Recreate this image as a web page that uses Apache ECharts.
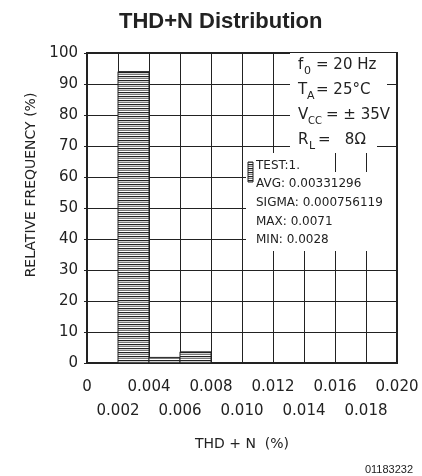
<!DOCTYPE html>
<html><head><meta charset="utf-8">
<script src="https://cdn.jsdelivr.net/npm/echarts@6/dist/echarts.min.js"></script>
<style>html,body{margin:0;padding:0;background:#fff}#c{width:422px;height:476px}</style>
</head><body><div id="c"></div>
<script>
// ---- data ----
const binEdges = [0.002, 0.004, 0.006, 0.008];   // THD+N (%) bin edges
const relFreq  = [94, 1.8, 3.6];                  // relative frequency (%) per bin
const xMin = 0, xMax = 0.020, xStep = 0.002;
const yMin = 0, yMax = 100, yStep = 10;
const statsLines = ['TEST:1.', 'AVG: 0.00331296', 'SIGMA: 0.000756119', 'MAX: 0.0071', 'MIN: 0.0028'];
const condSymbols = ['f', 'T', 'V', 'R'];
const condSubs    = ['0', 'A', 'CC', 'L'];
const condValues  = ['= 20 Hz', '= 25°C', '= ± 35V', '=   8Ω'];
const titleText = 'THD+N Distribution';
const xName = 'THD + N  (%)';
const yName = 'RELATIVE FREQUENCY (%)';
const figId = '01183232';

// ---- hatch pattern ----
function makeHatch() {
  const c = document.createElement('canvas');
  c.width = 4; c.height = 4;
  const g = c.getContext('2d');
  g.fillStyle = '#fff'; g.fillRect(0, 0, 4, 4);
  g.fillStyle = '#222'; g.fillRect(0, 0, 4, 1);
  g.fillStyle = '#d0d0d0'; g.fillRect(0, 1, 4, 1);
  g.fillStyle = '#7a7a7a'; g.fillRect(0, 2, 4, 1);
  return c;
}
const hatch = makeHatch();

const histData = relFreq.map((f, i) => [binEdges[i], binEdges[i + 1], f]);

const FONT = 'DejaVu Sans';
const TXT = '#222';

function tickLabel(v, wantOdd) {
  const i = Math.round(v / xStep);
  if ((i % 2 === 1) !== wantOdd) return '';
  return i === 0 ? '0' : v.toFixed(3);
}

// ---- annotation graphics (layout only) ----
const graphics = [];
const condBoxes = [
  {x: 290, y: 53, w: 106, h: 25},
  {x: 290, y: 78, w: 97, h: 25},
  {x: 290, y: 103, w: 106, h: 25},
  {x: 290, y: 128, w: 87, h: 25}
];
const condCenters = [65, 90, 115, 140];
const subX = [304, 307, 308, 309];
const valX = [316, 316, 326, 318];
const subSize = [11, 11, 10, 11];
condBoxes.forEach((b, i) => {
  graphics.push({type: 'rect', z: 100, shape: {x: b.x, y: b.y, width: b.w, height: b.h}, style: {fill: '#fff'}});
  graphics.push({type: 'text', z: 101, x: 298, y: condCenters[i], style: {text: condSymbols[i], font: '15px "' + FONT + '"', fill: TXT, verticalAlign: 'middle'}});
  graphics.push({type: 'text', z: 101, x: subX[i], y: condCenters[i] + 6, style: {text: condSubs[i], font: subSize[i] + 'px "' + FONT + '"', fill: TXT, verticalAlign: 'middle'}});
  graphics.push({type: 'text', z: 101, x: valX[i], y: condCenters[i], style: {text: condValues[i], font: '15px "' + FONT + '"', fill: TXT, verticalAlign: 'middle'}});
});
graphics.push({type: 'rect', z: 100, shape: {x: 246, y: 153, width: 64, height: 20}, style: {fill: '#fff'}});
graphics.push({type: 'rect', z: 100, shape: {x: 246, y: 172, width: 150, height: 79}, style: {fill: '#fff'}});
graphics.push({type: 'rect', z: 101, shape: {x: 248, y: 162, width: 5, height: 20}, style: {fill: {image: hatch, repeat: 'repeat'}, stroke: '#222', lineWidth: 1}});
const statY = [166, 184, 203, 222, 240];
statsLines.forEach((s, i) => {
  graphics.push({type: 'text', z: 101, x: 256, y: statY[i], style: {text: s, font: '12px "' + FONT + '"', fill: TXT, verticalAlign: 'middle'}});
});
graphics.push({type: 'text', z: 101, x: 413, y: 470, style: {text: figId, font: '11px "Liberation Sans"', fill: TXT, align: 'right', verticalAlign: 'middle'}});

const chart = echarts.init(document.getElementById('c'), null, {renderer: 'canvas'});
chart.setOption({
  animation: false,
  backgroundColor: '#fff',
  title: {
    text: titleText, left: 114, top: 6,
    textStyle: {fontFamily: 'Liberation Sans', fontWeight: 'bold', fontSize: 22, color: TXT}
  },
  grid: {left: 87, right: 25, top: 53, bottom: 113, show: true, borderColor: '#222', borderWidth: 2, backgroundColor: 'transparent'},
  xAxis: [{
    type: 'value', min: xMin, max: xMax, interval: xStep, position: 'bottom',
    name: xName, nameLocation: 'middle', nameGap: 74,
    nameTextStyle: {fontFamily: FONT, fontSize: 14, color: TXT},
    axisLine: {show: true, lineStyle: {color: '#222', width: 2}},
    axisTick: {show: false},
    splitLine: {show: true, lineStyle: {color: '#222', width: 1}},
    axisLabel: {
      fontFamily: FONT, fontSize: 15, color: TXT, margin: 17,
      showMinLabel: true, showMaxLabel: true, hideOverlap: false,
      formatter: (v) => tickLabel(v, false)
    }
  }, {
    type: 'value', min: xMin, max: xMax, interval: xStep, position: 'bottom',
    axisLine: {show: false}, axisTick: {show: false}, splitLine: {show: false},
    axisLabel: {
      fontFamily: FONT, fontSize: 15, color: TXT, margin: 41,
      showMinLabel: true, showMaxLabel: true, hideOverlap: false,
      formatter: (v) => tickLabel(v, true)
    }
  }],
  yAxis: {
    type: 'value', min: yMin, max: yMax, interval: yStep,
    name: yName, nameLocation: 'middle', nameGap: 44, nameRotate: 90,
    nameTextStyle: {fontFamily: FONT, fontSize: 14, color: TXT, padding: [0, 0, 0, 46]},
    axisLine: {show: true, lineStyle: {color: '#222', width: 2}},
    axisTick: {show: true, length: 3, lineStyle: {color: '#222'}},
    splitLine: {show: true, lineStyle: {color: '#222', width: 1}},
    axisLabel: {fontFamily: FONT, fontSize: 15, color: TXT, margin: 9}
  },
  series: [{
    type: 'custom',
    xAxisIndex: 0,
    data: histData,
    encode: {x: [0, 1], y: 2},
    renderItem: function (params, api) {
      const p0 = api.coord([api.value(0), api.value(2)]);
      const p1 = api.coord([api.value(1), 0]);
      return {
        type: 'rect',
        shape: {x: p0[0], y: p0[1], width: p1[0] - p0[0], height: p1[1] - p0[1]},
        style: {fill: {image: hatch, repeat: 'repeat'}, stroke: '#222', lineWidth: 1}
      };
    }
  }],
  graphic: graphics
});
</script>
</body></html>
